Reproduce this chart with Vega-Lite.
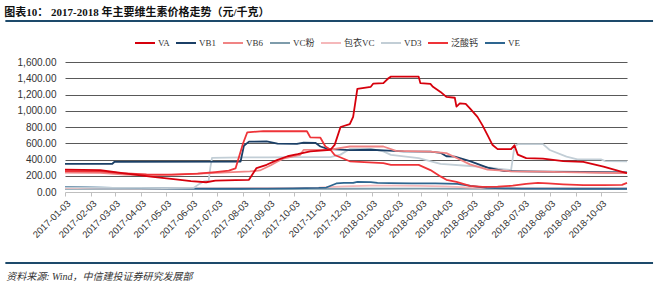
{
  "$schema": "https://vega.github.io/schema/vega-lite/v6.json",
  "background": "white",
  "autosize": {"type": "none"},
  "padding": {"left": 65, "right": 33, "top": 62, "bottom": 99},
  "width": 562,
  "height": 130,
  "title": {
    "text": "图表10：  2017-2018 年主要维生素价格走势（元/千克）",
    "anchor": "start",
    "fontSize": 11,
    "fontWeight": "bold",
    "font": "Liberation Serif, Noto Sans CJK SC",
    "color": "#111111",
    "offset": 2
  },
  "layer": [
    {
      "data": {"values": [
        {"s": "VC粉", "d": "2017/01/03", "v": 40},
        {"s": "VC粉", "d": "2017/06/01", "v": 38},
        {"s": "VC粉", "d": "2017/12/01", "v": 40},
        {"s": "VC粉", "d": "2018/03/01", "v": 42},
        {"s": "VC粉", "d": "2018/06/01", "v": 40},
        {"s": "VC粉", "d": "2018/11/03", "v": 38},

        {"s": "包衣VC", "d": "2017/01/03", "v": 48},
        {"s": "包衣VC", "d": "2017/04/01", "v": 45},
        {"s": "包衣VC", "d": "2017/07/01", "v": 45},
        {"s": "包衣VC", "d": "2017/10/01", "v": 48},
        {"s": "包衣VC", "d": "2017/11/01", "v": 55},
        {"s": "包衣VC", "d": "2017/12/01", "v": 70},
        {"s": "包衣VC", "d": "2018/01/01", "v": 78},
        {"s": "包衣VC", "d": "2018/02/01", "v": 78},
        {"s": "包衣VC", "d": "2018/03/01", "v": 75},
        {"s": "包衣VC", "d": "2018/04/01", "v": 70},
        {"s": "包衣VC", "d": "2018/05/01", "v": 55},
        {"s": "包衣VC", "d": "2018/06/01", "v": 45},
        {"s": "包衣VC", "d": "2018/08/01", "v": 45},
        {"s": "包衣VC", "d": "2018/11/03", "v": 45},

        {"s": "VE", "d": "2017/01/03", "v": 62},
        {"s": "VE", "d": "2017/02/01", "v": 57},
        {"s": "VE", "d": "2017/03/01", "v": 52},
        {"s": "VE", "d": "2017/04/01", "v": 48},
        {"s": "VE", "d": "2017/05/01", "v": 45},
        {"s": "VE", "d": "2017/06/01", "v": 42},
        {"s": "VE", "d": "2017/07/01", "v": 40},
        {"s": "VE", "d": "2017/08/01", "v": 40},
        {"s": "VE", "d": "2017/09/01", "v": 42},
        {"s": "VE", "d": "2017/10/01", "v": 45},
        {"s": "VE", "d": "2017/11/01", "v": 50},
        {"s": "VE", "d": "2017/11/10", "v": 55},
        {"s": "VE", "d": "2017/11/22", "v": 105},
        {"s": "VE", "d": "2017/12/01", "v": 112},
        {"s": "VE", "d": "2017/12/12", "v": 112},
        {"s": "VE", "d": "2017/12/17", "v": 125},
        {"s": "VE", "d": "2018/01/02", "v": 122},
        {"s": "VE", "d": "2018/01/10", "v": 112},
        {"s": "VE", "d": "2018/01/25", "v": 108},
        {"s": "VE", "d": "2018/02/20", "v": 105},
        {"s": "VE", "d": "2018/03/20", "v": 105},
        {"s": "VE", "d": "2018/04/15", "v": 100},
        {"s": "VE", "d": "2018/05/01", "v": 75},
        {"s": "VE", "d": "2018/05/20", "v": 52},
        {"s": "VE", "d": "2018/06/10", "v": 45},
        {"s": "VE", "d": "2018/07/01", "v": 42},
        {"s": "VE", "d": "2018/08/01", "v": 42},
        {"s": "VE", "d": "2018/09/01", "v": 40},
        {"s": "VE", "d": "2018/10/01", "v": 40},
        {"s": "VE", "d": "2018/11/03", "v": 40},

        {"s": "VD3", "d": "2017/01/03", "v": 58},
        {"s": "VD3", "d": "2017/02/01", "v": 55},
        {"s": "VD3", "d": "2017/03/01", "v": 52},
        {"s": "VD3", "d": "2017/04/01", "v": 50},
        {"s": "VD3", "d": "2017/05/01", "v": 48},
        {"s": "VD3", "d": "2017/06/05", "v": 50},
        {"s": "VD3", "d": "2017/06/12", "v": 100},
        {"s": "VD3", "d": "2017/06/18", "v": 135},
        {"s": "VD3", "d": "2017/06/23", "v": 140},
        {"s": "VD3", "d": "2017/06/25", "v": 300},
        {"s": "VD3", "d": "2017/06/27", "v": 420},
        {"s": "VD3", "d": "2017/08/01", "v": 425},
        {"s": "VD3", "d": "2017/09/01", "v": 425},
        {"s": "VD3", "d": "2017/10/01", "v": 428},
        {"s": "VD3", "d": "2017/11/15", "v": 430},
        {"s": "VD3", "d": "2017/11/27", "v": 460},
        {"s": "VD3", "d": "2017/12/08", "v": 530},
        {"s": "VD3", "d": "2018/01/02", "v": 532},
        {"s": "VD3", "d": "2018/01/17", "v": 500},
        {"s": "VD3", "d": "2018/01/26", "v": 457},
        {"s": "VD3", "d": "2018/02/28", "v": 416},
        {"s": "VD3", "d": "2018/03/26", "v": 345},
        {"s": "VD3", "d": "2018/04/30", "v": 320},
        {"s": "VD3", "d": "2018/05/20", "v": 305},
        {"s": "VD3", "d": "2018/06/02", "v": 288},
        {"s": "VD3", "d": "2018/06/18", "v": 270},
        {"s": "VD3", "d": "2018/06/22", "v": 560},
        {"s": "VD3", "d": "2018/06/26", "v": 588},
        {"s": "VD3", "d": "2018/07/26", "v": 590},
        {"s": "VD3", "d": "2018/08/03", "v": 517},
        {"s": "VD3", "d": "2018/08/23", "v": 435},
        {"s": "VD3", "d": "2018/09/05", "v": 402},
        {"s": "VD3", "d": "2018/10/03", "v": 402},
        {"s": "VD3", "d": "2018/10/08", "v": 381},
        {"s": "VD3", "d": "2018/11/03", "v": 378},

        {"s": "VB1", "d": "2017/01/03", "v": 345},
        {"s": "VB1", "d": "2017/02/28", "v": 345},
        {"s": "VB1", "d": "2017/03/03", "v": 372},
        {"s": "VB1", "d": "2017/07/31", "v": 375},
        {"s": "VB1", "d": "2017/08/04", "v": 570},
        {"s": "VB1", "d": "2017/08/10", "v": 620},
        {"s": "VB1", "d": "2017/08/31", "v": 622},
        {"s": "VB1", "d": "2017/09/13", "v": 595},
        {"s": "VB1", "d": "2017/10/06", "v": 592},
        {"s": "VB1", "d": "2017/10/14", "v": 607},
        {"s": "VB1", "d": "2017/10/28", "v": 605},
        {"s": "VB1", "d": "2017/11/03", "v": 560},
        {"s": "VB1", "d": "2017/11/09", "v": 540},
        {"s": "VB1", "d": "2017/11/15", "v": 527},
        {"s": "VB1", "d": "2017/12/08", "v": 515},
        {"s": "VB1", "d": "2018/01/02", "v": 520},
        {"s": "VB1", "d": "2018/01/17", "v": 512},
        {"s": "VB1", "d": "2018/02/10", "v": 500},
        {"s": "VB1", "d": "2018/03/14", "v": 497},
        {"s": "VB1", "d": "2018/03/26", "v": 482},
        {"s": "VB1", "d": "2018/04/02", "v": 440},
        {"s": "VB1", "d": "2018/04/12", "v": 435},
        {"s": "VB1", "d": "2018/04/30", "v": 380},
        {"s": "VB1", "d": "2018/05/21", "v": 300},
        {"s": "VB1", "d": "2018/06/10", "v": 258},
        {"s": "VB1", "d": "2018/07/26", "v": 252},
        {"s": "VB1", "d": "2018/09/12", "v": 246},
        {"s": "VB1", "d": "2018/11/03", "v": 240},

        {"s": "VB6", "d": "2017/01/03", "v": 240},
        {"s": "VB6", "d": "2017/02/14", "v": 236},
        {"s": "VB6", "d": "2017/03/15", "v": 215},
        {"s": "VB6", "d": "2017/04/15", "v": 205},
        {"s": "VB6", "d": "2017/05/15", "v": 215},
        {"s": "VB6", "d": "2017/06/11", "v": 225},
        {"s": "VB6", "d": "2017/07/22", "v": 245},
        {"s": "VB6", "d": "2017/08/11", "v": 253},
        {"s": "VB6", "d": "2017/08/23", "v": 265},
        {"s": "VB6", "d": "2017/09/05", "v": 330},
        {"s": "VB6", "d": "2017/09/13", "v": 375},
        {"s": "VB6", "d": "2017/09/21", "v": 415},
        {"s": "VB6", "d": "2017/10/10", "v": 457},
        {"s": "VB6", "d": "2017/10/14", "v": 518},
        {"s": "VB6", "d": "2017/11/15", "v": 522},
        {"s": "VB6", "d": "2017/12/08", "v": 560},
        {"s": "VB6", "d": "2018/01/17", "v": 560},
        {"s": "VB6", "d": "2018/02/01", "v": 505},
        {"s": "VB6", "d": "2018/03/14", "v": 497},
        {"s": "VB6", "d": "2018/04/02", "v": 478},
        {"s": "VB6", "d": "2018/04/18", "v": 400},
        {"s": "VB6", "d": "2018/04/30", "v": 340},
        {"s": "VB6", "d": "2018/05/21", "v": 275},
        {"s": "VB6", "d": "2018/06/18", "v": 255},
        {"s": "VB6", "d": "2018/07/26", "v": 250},
        {"s": "VB6", "d": "2018/08/19", "v": 245},
        {"s": "VB6", "d": "2018/10/06", "v": 237},
        {"s": "VB6", "d": "2018/11/03", "v": 232},

        {"s": "泛酸钙", "d": "2017/01/03", "v": 258},
        {"s": "泛酸钙", "d": "2017/02/14", "v": 255},
        {"s": "泛酸钙", "d": "2017/03/10", "v": 232},
        {"s": "泛酸钙", "d": "2017/04/10", "v": 218},
        {"s": "泛酸钙", "d": "2017/05/10", "v": 215},
        {"s": "泛酸钙", "d": "2017/06/10", "v": 225},
        {"s": "泛酸钙", "d": "2017/07/01", "v": 245},
        {"s": "泛酸钙", "d": "2017/07/17", "v": 262},
        {"s": "泛酸钙", "d": "2017/07/25", "v": 290},
        {"s": "泛酸钙", "d": "2017/08/03", "v": 600},
        {"s": "泛酸钙", "d": "2017/08/08", "v": 735},
        {"s": "泛酸钙", "d": "2017/08/27", "v": 748},
        {"s": "泛酸钙", "d": "2017/10/18", "v": 748},
        {"s": "泛酸钙", "d": "2017/10/22", "v": 672},
        {"s": "泛酸钙", "d": "2017/11/03", "v": 668},
        {"s": "泛酸钙", "d": "2017/11/09", "v": 560},
        {"s": "泛酸钙", "d": "2017/11/15", "v": 520},
        {"s": "泛酸钙", "d": "2017/11/20", "v": 455},
        {"s": "泛酸钙", "d": "2017/12/08", "v": 378},
        {"s": "泛酸钙", "d": "2018/01/17", "v": 355},
        {"s": "泛酸钙", "d": "2018/01/26", "v": 335},
        {"s": "泛酸钙", "d": "2018/02/28", "v": 333},
        {"s": "泛酸钙", "d": "2018/03/14", "v": 270},
        {"s": "泛酸钙", "d": "2018/03/26", "v": 192},
        {"s": "泛酸钙", "d": "2018/04/02", "v": 150},
        {"s": "泛酸钙", "d": "2018/04/14", "v": 125},
        {"s": "泛酸钙", "d": "2018/04/30", "v": 75},
        {"s": "泛酸钙", "d": "2018/05/15", "v": 62},
        {"s": "泛酸钙", "d": "2018/06/02", "v": 65},
        {"s": "泛酸钙", "d": "2018/06/20", "v": 78},
        {"s": "泛酸钙", "d": "2018/07/06", "v": 100},
        {"s": "泛酸钙", "d": "2018/07/20", "v": 112},
        {"s": "泛酸钙", "d": "2018/08/01", "v": 105},
        {"s": "泛酸钙", "d": "2018/08/19", "v": 95},
        {"s": "泛酸钙", "d": "2018/09/12", "v": 85},
        {"s": "泛酸钙", "d": "2018/10/06", "v": 85},
        {"s": "泛酸钙", "d": "2018/10/28", "v": 88},
        {"s": "泛酸钙", "d": "2018/11/03", "v": 112},

        {"s": "VA", "d": "2017/01/03", "v": 275},
        {"s": "VA", "d": "2017/02/14", "v": 268},
        {"s": "VA", "d": "2017/03/15", "v": 228},
        {"s": "VA", "d": "2017/04/15", "v": 190},
        {"s": "VA", "d": "2017/05/15", "v": 155},
        {"s": "VA", "d": "2017/06/02", "v": 135},
        {"s": "VA", "d": "2017/06/20", "v": 120},
        {"s": "VA", "d": "2017/07/01", "v": 140},
        {"s": "VA", "d": "2017/07/25", "v": 145},
        {"s": "VA", "d": "2017/08/10", "v": 150},
        {"s": "VA", "d": "2017/08/19", "v": 295},
        {"s": "VA", "d": "2017/08/31", "v": 335},
        {"s": "VA", "d": "2017/09/13", "v": 395},
        {"s": "VA", "d": "2017/09/25", "v": 440},
        {"s": "VA", "d": "2017/10/07", "v": 465},
        {"s": "VA", "d": "2017/10/22", "v": 500},
        {"s": "VA", "d": "2017/11/03", "v": 510},
        {"s": "VA", "d": "2017/11/15", "v": 520},
        {"s": "VA", "d": "2017/11/20", "v": 580},
        {"s": "VA", "d": "2017/11/27", "v": 800},
        {"s": "VA", "d": "2017/12/08", "v": 835},
        {"s": "VA", "d": "2017/12/12", "v": 925},
        {"s": "VA", "d": "2017/12/17", "v": 1270},
        {"s": "VA", "d": "2018/01/02", "v": 1295},
        {"s": "VA", "d": "2018/01/05", "v": 1335},
        {"s": "VA", "d": "2018/01/17", "v": 1340},
        {"s": "VA", "d": "2018/01/23", "v": 1400},
        {"s": "VA", "d": "2018/01/26", "v": 1420},
        {"s": "VA", "d": "2018/02/28", "v": 1420},
        {"s": "VA", "d": "2018/03/02", "v": 1340},
        {"s": "VA", "d": "2018/03/14", "v": 1330},
        {"s": "VA", "d": "2018/03/17", "v": 1295},
        {"s": "VA", "d": "2018/03/26", "v": 1232},
        {"s": "VA", "d": "2018/04/02", "v": 1170},
        {"s": "VA", "d": "2018/04/12", "v": 1160},
        {"s": "VA", "d": "2018/04/14", "v": 1050},
        {"s": "VA", "d": "2018/04/18", "v": 1090},
        {"s": "VA", "d": "2018/04/25", "v": 1085},
        {"s": "VA", "d": "2018/04/30", "v": 1030},
        {"s": "VA", "d": "2018/05/09", "v": 925},
        {"s": "VA", "d": "2018/05/15", "v": 820},
        {"s": "VA", "d": "2018/05/21", "v": 700},
        {"s": "VA", "d": "2018/05/27", "v": 578},
        {"s": "VA", "d": "2018/06/02", "v": 528},
        {"s": "VA", "d": "2018/06/18", "v": 528},
        {"s": "VA", "d": "2018/06/22", "v": 575},
        {"s": "VA", "d": "2018/06/26", "v": 460},
        {"s": "VA", "d": "2018/07/06", "v": 416},
        {"s": "VA", "d": "2018/07/26", "v": 410},
        {"s": "VA", "d": "2018/08/19", "v": 380},
        {"s": "VA", "d": "2018/09/12", "v": 370},
        {"s": "VA", "d": "2018/10/06", "v": 313},
        {"s": "VA", "d": "2018/10/26", "v": 255},
        {"s": "VA", "d": "2018/11/03", "v": 232}
      ]},
      "mark": {"type": "line", "strokeWidth": 1.8, "strokeJoin": "round"},
      "encoding": {
        "x": {
          "field": "d",
          "type": "temporal",
          "scale": {"domain": [{"year": 2017, "month": 1, "date": 3}, {"year": 2018, "month": 11, "date": 3}]},
          "axis": {
            "title": null,
            "grid": false,
            "format": "%Y-%m-%d",
            "values": [
              {"year": 2017, "month": 1, "date": 3}, {"year": 2017, "month": 2, "date": 3},
              {"year": 2017, "month": 3, "date": 3}, {"year": 2017, "month": 4, "date": 3},
              {"year": 2017, "month": 5, "date": 3}, {"year": 2017, "month": 6, "date": 3},
              {"year": 2017, "month": 7, "date": 3}, {"year": 2017, "month": 8, "date": 3},
              {"year": 2017, "month": 9, "date": 3}, {"year": 2017, "month": 10, "date": 3},
              {"year": 2017, "month": 11, "date": 3}, {"year": 2017, "month": 12, "date": 3},
              {"year": 2018, "month": 1, "date": 3}, {"year": 2018, "month": 2, "date": 3},
              {"year": 2018, "month": 3, "date": 3}, {"year": 2018, "month": 4, "date": 3},
              {"year": 2018, "month": 5, "date": 3}, {"year": 2018, "month": 6, "date": 3},
              {"year": 2018, "month": 7, "date": 3}, {"year": 2018, "month": 8, "date": 3},
              {"year": 2018, "month": 9, "date": 3}, {"year": 2018, "month": 10, "date": 3}
            ],
            "labelAngle": -45,
            "labelFont": "Liberation Sans",
            "labelFontSize": 9.5,
            "labelColor": "#333333",
            "labelPadding": 2,
            "labelOverlap": false,
            "labelFlush": false,
            "domainColor": "#BFBFBF",
            "tickColor": "#BFBFBF",
            "tickSize": 4
          }
        },
        "y": {
          "field": "v",
          "type": "quantitative",
          "scale": {"domain": [0, 1600], "nice": false},
          "axis": {
            "title": null,
            "values": [0, 200, 400, 600, 800, 1000, 1200, 1400, 1600],
            "format": ",.2f",
            "domain": false,
            "ticks": false,
            "labelOverlap": false,
            "labelFlush": false,
            "labelFont": "Liberation Sans",
            "labelFontSize": 10,
            "labelColor": "#333333",
            "labelPadding": 9,
            "gridColor": {"condition": {"test": "datum.value === 0", "value": "transparent"}, "value": "#595959"},
            "gridWidth": 1
          }
        },
        "color": {
          "field": "s",
          "type": "nominal",
          "scale": {
            "domain": ["VA", "VB1", "VB6", "VC粉", "包衣VC", "VD3", "泛酸钙", "VE"],
            "range": ["#D6000C", "#1B3F66", "#F08484", "#7E9CAB", "#F5B8BA", "#C2CED6", "#EE3338", "#2E6690"]
          },
          "legend": {
            "orient": "none",
            "legendX": 69,
            "legendY": -30,
            "direction": "horizontal",
            "title": null,
            "symbolType": "stroke",
            "symbolSize": 400,
            "symbolStrokeWidth": 2,
            "labelFont": "Liberation Serif, Noto Sans CJK SC",
            "labelFontSize": 9,
            "labelColor": "#333333",
            "labelOffset": 2,
            "columnPadding": 2,
            "padding": 0
          }
        }
      }
    },
    {
      "data": {"values": [{"edge": "head", "v": 2105}, {"edge": "foot", "v": -874}]},
      "mark": {"type": "rule", "stroke": "#1D4A6B", "strokeWidth": 2},
      "encoding": {
        "x": {
          "datum": {"year": 2016, "month": 10, "date": 24},
          "type": "temporal",
          "axis": {
            "title": null,
            "grid": false,
            "format": "%Y-%m-%d",
            "values": [
              {"year": 2017, "month": 1, "date": 3}, {"year": 2017, "month": 2, "date": 3},
              {"year": 2017, "month": 3, "date": 3}, {"year": 2017, "month": 4, "date": 3},
              {"year": 2017, "month": 5, "date": 3}, {"year": 2017, "month": 6, "date": 3},
              {"year": 2017, "month": 7, "date": 3}, {"year": 2017, "month": 8, "date": 3},
              {"year": 2017, "month": 9, "date": 3}, {"year": 2017, "month": 10, "date": 3},
              {"year": 2017, "month": 11, "date": 3}, {"year": 2017, "month": 12, "date": 3},
              {"year": 2018, "month": 1, "date": 3}, {"year": 2018, "month": 2, "date": 3},
              {"year": 2018, "month": 3, "date": 3}, {"year": 2018, "month": 4, "date": 3},
              {"year": 2018, "month": 5, "date": 3}, {"year": 2018, "month": 6, "date": 3},
              {"year": 2018, "month": 7, "date": 3}, {"year": 2018, "month": 8, "date": 3},
              {"year": 2018, "month": 9, "date": 3}, {"year": 2018, "month": 10, "date": 3}
            ],
            "labelAngle": -45,
            "labelFont": "Liberation Sans",
            "labelFontSize": 9.5,
            "labelColor": "#333333",
            "labelPadding": 2,
            "labelOverlap": false,
            "labelFlush": false,
            "domainColor": "#BFBFBF",
            "tickColor": "#BFBFBF",
            "tickSize": 4
          }
        },
        "x2": {"datum": {"year": 2018, "month": 12, "date": 4}},
        "y": {
          "field": "v",
          "type": "quantitative",
          "axis": {
            "title": null,
            "values": [0, 200, 400, 600, 800, 1000, 1200, 1400, 1600],
            "format": ",.2f",
            "domain": false,
            "ticks": false,
            "labelOverlap": false,
            "labelFlush": false,
            "labelFont": "Liberation Sans",
            "labelFontSize": 10,
            "labelColor": "#333333",
            "labelPadding": 9,
            "gridColor": {"condition": {"test": "datum.value === 0", "value": "transparent"}, "value": "#595959"},
            "gridWidth": 1
          }
        }
      }
    },
    {
      "data": {"values": [{"note": "资料来源: Wind，中信建投证券研究发展部", "v": -1046}]},
      "mark": {
        "type": "text",
        "align": "left",
        "baseline": "middle",
        "font": "Liberation Serif, Noto Sans CJK SC",
        "fontStyle": "italic",
        "fontSize": 10,
        "color": "#333333"
      },
      "encoding": {
        "x": {
          "datum": {"year": 2016, "month": 10, "date": 25},
          "type": "temporal",
          "axis": {
            "title": null,
            "grid": false,
            "format": "%Y-%m-%d",
            "values": [
              {"year": 2017, "month": 1, "date": 3}, {"year": 2017, "month": 2, "date": 3},
              {"year": 2017, "month": 3, "date": 3}, {"year": 2017, "month": 4, "date": 3},
              {"year": 2017, "month": 5, "date": 3}, {"year": 2017, "month": 6, "date": 3},
              {"year": 2017, "month": 7, "date": 3}, {"year": 2017, "month": 8, "date": 3},
              {"year": 2017, "month": 9, "date": 3}, {"year": 2017, "month": 10, "date": 3},
              {"year": 2017, "month": 11, "date": 3}, {"year": 2017, "month": 12, "date": 3},
              {"year": 2018, "month": 1, "date": 3}, {"year": 2018, "month": 2, "date": 3},
              {"year": 2018, "month": 3, "date": 3}, {"year": 2018, "month": 4, "date": 3},
              {"year": 2018, "month": 5, "date": 3}, {"year": 2018, "month": 6, "date": 3},
              {"year": 2018, "month": 7, "date": 3}, {"year": 2018, "month": 8, "date": 3},
              {"year": 2018, "month": 9, "date": 3}, {"year": 2018, "month": 10, "date": 3}
            ],
            "labelAngle": -45,
            "labelFont": "Liberation Sans",
            "labelFontSize": 9.5,
            "labelColor": "#333333",
            "labelPadding": 2,
            "labelOverlap": false,
            "labelFlush": false,
            "domainColor": "#BFBFBF",
            "tickColor": "#BFBFBF",
            "tickSize": 4
          }
        },
        "y": {
          "field": "v",
          "type": "quantitative",
          "axis": {
            "title": null,
            "values": [0, 200, 400, 600, 800, 1000, 1200, 1400, 1600],
            "format": ",.2f",
            "domain": false,
            "ticks": false,
            "labelOverlap": false,
            "labelFlush": false,
            "labelFont": "Liberation Sans",
            "labelFontSize": 10,
            "labelColor": "#333333",
            "labelPadding": 9,
            "gridColor": {"condition": {"test": "datum.value === 0", "value": "transparent"}, "value": "#595959"},
            "gridWidth": 1
          }
        },
        "text": {"field": "note"}
      }
    }
  ],
  "config": {
    "view": {"stroke": null},
    "font": "Liberation Sans"
  }
}
